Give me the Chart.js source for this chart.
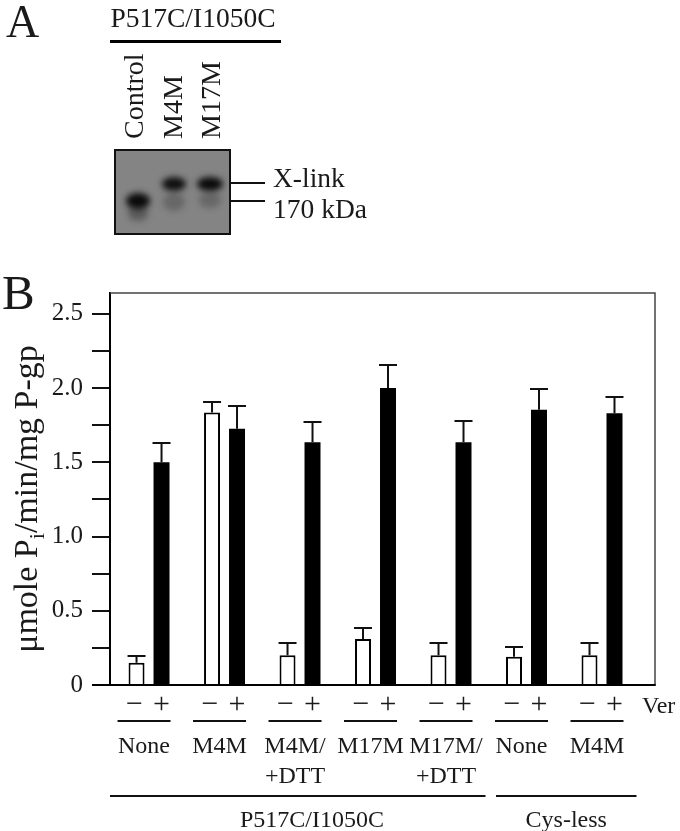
<!DOCTYPE html>
<html><head><meta charset="utf-8">
<script src="https://cdn.jsdelivr.net/npm/chart.js@4.4.1/dist/chart.umd.min.js"></script>
<style>html,body{margin:0;padding:0;background:#fff;}canvas{display:block;}</style>
</head><body>
<canvas id="c" width="680" height="831"></canvas>
<script>
// ---- data ----
const groupNames = [['None'], ['M4M'], ['M4M/', '+DTT'], ['M17M'], ['M17M/', '+DTT'], ['None'], ['M4M']];
const minusVer = [0.15, 1.835, 0.20, 0.31, 0.20, 0.19, 0.20];
const minusErr = [0.045, 0.07, 0.08, 0.075, 0.08, 0.065, 0.08];
const plusVer = [1.50, 1.725, 1.635, 2.00, 1.635, 1.853, 1.83];
const plusErr = [0.13, 0.157, 0.137, 0.153, 0.14, 0.142, 0.11];
const yTickValues = [0, 0.5, 1.0, 1.5, 2.0, 2.5];
const yTickLabels = ['0', '0.5', '1.0', '1.5', '2.0', '2.5'];
const constructs = [{label: 'P517C/I1050C', from: 0, to: 4}, {label: 'Cys-less', from: 5, to: 6}];
const gelLanes = ['Control', 'M4M', 'M17M'];
const gelMarkers = ['X-link', '170 kDa'];

const FONT = "'Liberation Serif','Times New Roman',serif";
const INK = '#1a1a1a';

// ---- panel A (gel) ----
const panelA = {
  id: 'panelA',
  afterDraw(chart) {
    const ctx = chart.ctx;
    ctx.save();
    ctx.fillStyle = INK;
    ctx.textBaseline = 'alphabetic';
    ctx.textAlign = 'left';
    ctx.font = '46px ' + FONT;
    ctx.fillText('A', 6, 37);
    ctx.font = '49px ' + FONT;
    ctx.fillText('B', 2, 309);

    ctx.font = '27.5px ' + FONT;
    ctx.textAlign = 'center';
    ctx.fillText(constructs[0].label, 193, 27);
    ctx.strokeStyle = '#000';
    ctx.lineWidth = 3;
    ctx.beginPath(); ctx.moveTo(110, 41.5); ctx.lineTo(281, 41.5); ctx.stroke();

    const laneBase = [143, 182, 220];
    ctx.font = '28px ' + FONT;
    ctx.textAlign = 'left';
    gelLanes.forEach((t, i) => {
      ctx.save();
      ctx.translate(laneBase[i], 139);
      ctx.rotate(-Math.PI / 2);
      ctx.fillText(t, 0, 0);
      ctx.restore();
    });

    ctx.fillStyle = '#848484';
    ctx.fillRect(115, 150, 115, 84);
    ctx.save();
    ctx.beginPath(); ctx.rect(116, 151, 113, 82); ctx.clip();
    ctx.filter = 'blur(3px)';
    const band = (cx, cy, rx, ry, col) => {
      ctx.fillStyle = col;
      ctx.beginPath(); ctx.ellipse(cx, cy, rx, ry, 0, 0, Math.PI * 2); ctx.fill();
    };
    band(138, 213, 10, 8, 'rgba(40,40,40,0.45)');
    band(174, 202, 11, 9, 'rgba(50,50,50,0.35)');
    band(210, 200, 11, 8, 'rgba(50,50,50,0.35)');
    band(138, 201, 12, 8, '#0a0a0a');
    band(174, 184, 12, 7, '#0f0f0f');
    band(210, 184, 13, 7, '#0a0a0a');
    ctx.restore();
    ctx.strokeStyle = '#111';
    ctx.lineWidth = 2;
    ctx.strokeRect(115, 150, 115, 84);

    ctx.beginPath();
    ctx.moveTo(230, 183); ctx.lineTo(265, 183);
    ctx.moveTo(230, 201); ctx.lineTo(265, 201);
    ctx.stroke();
    ctx.fillStyle = INK;
    ctx.font = '27.5px ' + FONT;
    ctx.fillText(gelMarkers[0], 273, 187);
    ctx.fillText(gelMarkers[1], 273, 218);
    ctx.restore();
  }
};

// ---- frame, error bars, labels for panel B ----
const panelB = {
  id: 'panelB',
  afterDatasetsDraw(chart) {
    const ctx = chart.ctx, y = chart.scales.y, a = chart.chartArea;
    ctx.save();
    ctx.strokeStyle = '#111';
    ctx.lineWidth = 2;
    [minusErr, plusErr].forEach((errs, di) => {
      const meta = chart.getDatasetMeta(di);
      const vals = chart.data.datasets[di].data;
      meta.data.forEach((bar, i) => {
        const top = Math.round(y.getPixelForValue(vals[i].y + errs[i]));
        const half = bar.width / 2 + 1;
        ctx.beginPath();
        ctx.moveTo(bar.x, bar.y); ctx.lineTo(bar.x, top);
        ctx.moveTo(bar.x - half, top); ctx.lineTo(bar.x + half, top);
        ctx.stroke();
      });
    });
    ctx.strokeStyle = '#444';
    ctx.lineWidth = 1.5;
    ctx.beginPath();
    ctx.moveTo(a.left, a.top); ctx.lineTo(a.right, a.top); ctx.lineTo(a.right, a.bottom);
    ctx.stroke();
    ctx.strokeStyle = '#000';
    ctx.lineWidth = 2;
    ctx.beginPath();
    ctx.moveTo(a.left - 18, a.bottom); ctx.lineTo(a.right + 0.75, a.bottom);
    ctx.stroke();

    ctx.fillStyle = INK;
    ctx.save();
    ctx.translate(37, 499);
    ctx.rotate(-Math.PI / 2);
    const big = '34px ' + FONT, small = '22px ' + FONT;
    const p1 = 'μmole P', p2 = 'i', p3 = '/min/mg P-gp';
    ctx.font = big; const w1 = ctx.measureText(p1).width, w3 = ctx.measureText(p3).width;
    ctx.font = small; const w2 = ctx.measureText(p2).width;
    let x0 = -(w1 + w2 + w3) / 2;
    ctx.textAlign = 'left';
    ctx.font = big; ctx.fillText(p1, x0, 0);
    ctx.font = small; ctx.fillText(p2, x0 + w1, 7);
    ctx.font = big; ctx.fillText(p3, x0 + w1 + w2, 0);
    ctx.restore();

    const m0 = chart.getDatasetMeta(0).data, m1 = chart.getDatasetMeta(1).data;
    ctx.textAlign = 'center';
    ctx.lineWidth = 2;
    ctx.strokeStyle = '#111';
    groupNames.forEach((names, i) => {
      const xo = m0[i].x, xp = m1[i].x;
      ctx.font = '30px ' + FONT;
      ctx.fillText('−', xo - 2, 713);
      ctx.fillText('+', xp, 713);
      const l = xo - 19, r = xp + 9;
      ctx.beginPath(); ctx.moveTo(l, 721); ctx.lineTo(r, 721); ctx.stroke();
      ctx.font = '24px ' + FONT;
      names.forEach((n, k) => ctx.fillText(n, (l + r) / 2, 753 + k * 30));
    });
    ctx.font = '24px ' + FONT;
    ctx.textAlign = 'left';
    ctx.fillText('Ver', 642, 713);
    ctx.textAlign = 'center';
    constructs.forEach(c => {
      const l = c.from === 0 ? a.left : m0[c.from].x - 18;
      const r = m1[c.to].x + 22;
      ctx.beginPath(); ctx.moveTo(l, 796); ctx.lineTo(r, 796); ctx.stroke();
      const tx = c.from === 0 ? (m0[c.from].x + m1[c.to].x) / 2 + 12 : (l + r) / 2;
      ctx.fillText(c.label, tx, 827);
    });
    ctx.restore();
  }
};

new Chart(document.getElementById('c'), {
  type: 'bar',
  data: {
    datasets: [
      {
        label: '− Ver',
        data: minusVer.map((v, i) => ({x: i, y: v})),
        backgroundColor: '#ffffff',
        borderColor: '#000000',
        borderWidth: 2
      },
      {
        label: '+ Ver',
        data: plusVer.map((v, i) => ({x: i, y: v})),
        backgroundColor: '#000000',
        borderWidth: 0
      }
    ]
  },
  options: {
    responsive: false,
    animation: false,
    events: [],
    layout: {padding: {left: 0, right: 25, top: 293, bottom: 146}},
    datasets: {bar: {categoryPercentage: 0.662, barPercentage: 0.64}},
    plugins: {legend: {display: false}, tooltip: {enabled: false}},
    scales: {
      x: {
        type: 'linear', min: -0.517, max: 6.702, display: false, offset: false,
        grid: {offset: false},
        afterBuildTicks(s) { s.ticks = groupNames.map((_, i) => ({value: i})); }
      },
      y: {
        min: 0, max: 2.64,
        afterFit(s) { s.width = 110; },
        afterBuildTicks(s) {
          const t = [];
          for (let k = 0; k <= 10; k++) t.push({value: k * 0.25});
          s.ticks = t;
        },
        ticks: {
          padding: 9,
          color: INK,
          font: {family: FONT, size: 25},
          callback(v) {
            const idx = yTickValues.findIndex(t => Math.abs(t - v) < 1e-6);
            return idx >= 0 ? yTickLabels[idx] : '';
          }
        },
        grid: {drawOnChartArea: false, drawTicks: true, tickLength: 18, color: '#111', lineWidth: 2},
        border: {display: true, color: '#000', width: 2}
      }
    }
  },
  plugins: [panelA, panelB]
});
</script>
</body></html>
